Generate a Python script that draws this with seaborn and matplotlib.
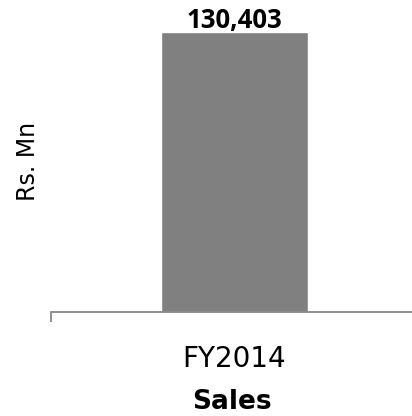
import pandas as pd
import seaborn as sns
import matplotlib.pyplot as plt

# Data
periods = ["FY2014"]
sales = [130403]
bar_labels = ["130,403"]

df = pd.DataFrame({"Periode": periods, "Sales": sales})

sns.set_style("white")
plt.rcParams["font.family"] = ["DejaVu Sans"]
plt.rcParams["text.color"] = "black"
plt.rcParams["axes.labelcolor"] = "black"
plt.rcParams["xtick.color"] = "black"

fig = plt.figure(figsize=(4.12, 4.16), dpi=100)
ax = fig.add_axes([0.124, 0.25, 0.876, 0.7226])

sns.barplot(data=df, x="Periode", y="Sales", color="#808080", saturation=1,
            width=0.407, errorbar=None, ax=ax)

ax.set_ylim(0, 140000)
ax.set_xlim(-0.508, 0.492)

# verdi over søylen
for p, lab in zip(ax.patches, bar_labels):
    ax.text(p.get_x() + p.get_width() / 2, p.get_height() - 900, lab,
            ha="center", va="bottom", fontsize=18.5, fontweight="bold",
            family=["Open Sans", "DejaVu Sans"], color="black")

for s in ["left", "right", "top"]:
    ax.spines[s].set_visible(False)
ax.spines["bottom"].set_color("#888888")
ax.spines["bottom"].set_linewidth(1.3)

ax.set_yticks([])
ax.tick_params(axis="x", which="major", bottom=False, length=0, pad=24,
               labelsize=20, labelcolor="black")
ax.set_xticks([-0.508], minor=True)
ax.tick_params(axis="x", which="minor", bottom=True, length=7, width=1.3,
               color="#888888")

ax.set_xlabel("Sales", fontsize=19, fontweight="bold", labelpad=11, color="black")
ax.set_ylabel("Rs. Mn", fontsize=17, labelpad=8, color="black")

fig.savefig("out.png", dpi=100)
